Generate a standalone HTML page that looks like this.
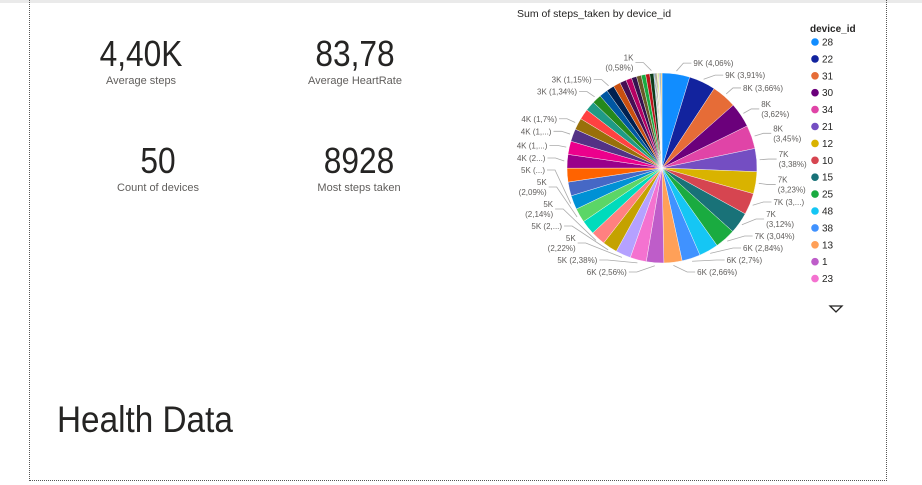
<!DOCTYPE html>
<html><head><meta charset="utf-8"><style>
body{margin:0;width:922px;height:485px;background:#fff;font-family:"Liberation Sans",sans-serif;overflow:hidden;position:relative}
.topbar{position:absolute;left:0;top:0;width:922px;height:3px;background:#eaeaea}
.frame{position:absolute;left:29px;top:-2px;width:856px;height:482px;border:1px dotted #555;border-top:none}
.kpi{position:absolute;width:200px;text-align:center;color:#252423}
.kpi .v{font-size:36px;line-height:40px;transform:scaleX(0.88);transform-origin:center}
.kpi .l{font-size:11px;color:#605e5c;margin-top:1px}
.title{position:absolute;left:57px;top:399px;font-size:37px;color:#252423;transform:scaleX(0.9);transform-origin:left}
</style></head><body>
<div class="topbar"></div>
<div class="frame"></div>
<div class="kpi" style="left:41px;top:34px"><div class="v">4,40K</div><div class="l">Average steps</div></div>
<div class="kpi" style="left:255px;top:34px"><div class="v">83,78</div><div class="l">Average HeartRate</div></div>
<div class="kpi" style="left:58px;top:141px"><div class="v">50</div><div class="l">Count of devices</div></div>
<div class="kpi" style="left:259px;top:141px"><div class="v">8928</div><div class="l">Most steps taken</div></div>
<div class="title">Health Data</div>
<svg id="chart" width="922" height="485" style="position:absolute;left:0;top:0">
<text x="517" y="17" font-size="10.5" fill="#252423">Sum of steps_taken by device_id</text>
<text x="810" y="32" font-size="10" font-weight="bold" fill="#252423">device_id</text>
<path d="M830,306 L842,306 L836,312 Z" fill="none" stroke="#252423" stroke-width="1.3"/>
</svg>
<script>
const devices=["28","22","31","30","34","21","12","10","15","25","48","38","13","1","23"];
const values=[4.06,3.91,3.66,3.62,3.45,3.38,3.23,3.15,3.12,3.04,2.84,2.70,2.66,2.56,2.38,2.22,2.18,2.14,2.12,2.09,2.05,2.03,2.02,2.00,1.95,1.85,1.70,1.55,1.45,1.34,1.25,1.15,1.05,0.95,0.85,0.75,0.70,0.65,0.60,0.58,0.12,0.12,0.12,0.12,0.12,0.12,0.12,0.12,0.12,0.12];
const labels=["9K (4,06%)","9K (3,91%)","8K (3,66%)","8K|(3,62%)","8K|(3,45%)","7K|(3,38%)","7K|(3,23%)","7K (3,...)","7K|(3,12%)","7K (3,04%)","6K (2,84%)","6K (2,7%)","6K (2,66%)","6K (2,56%)","5K (2,38%)","5K|(2,22%)","5K (2,...)","5K|(2,14%)","","5K|(2,09%)","5K (...)","","","4K (2...)","4K (1,...)","4K (1,...)","4K (1,7%)","","","3K (1,34%)","","3K (1,15%)","","","","","","","","1K|(0,58%)"];
const colors=["#118DFF","#12239E","#E66C37","#6B007B","#E044A7","#744EC2","#D9B300","#D64550","#197278","#1AAB40","#15C6F4","#4092FF","#FFA058","#BE5DC9","#F472D0","#B5A1FF","#C4A200","#FF8080","#00DBBC","#5BD667","#0091D5","#4668C5","#FF6300","#99008A","#EC008C","#533285","#99700A","#FF4141","#1F9A85","#25891C","#0057A2","#002050","#C94F0F","#450F54","#B60064","#34124F","#6A5A29","#1AAB40","#BA141A","#0C3D1A","#1F6EC7","#5C3B1A","#215A3C","#4F2E10","#E8D166","#99E000","#C4A0FF","#7C7C7C","#2A6F97","#F0A000"];
const svg=document.getElementById('chart');const NS="http://www.w3.org/2000/svg";
const cx=662,cy=168,r=95;
const total=values.reduce((a,b)=>a+b,0);
function angle(v){return v/total*Math.PI*2;}
function pt(a,rr){return [cx+rr*Math.sin(a),cy-rr*Math.cos(a)];}
let a0=0;const labs=[];
values.forEach((v,i)=>{
  const a1=a0+angle(v);
  const p0=pt(a0,r),p1=pt(a1,r);
  const p=document.createElementNS(NS,'path');
  p.setAttribute('d',`M${cx},${cy} L${p0[0]},${p0[1]} A${r},${r} 0 ${a1-a0>Math.PI?1:0} 1 ${p1[0]},${p1[1]} Z`);
  p.setAttribute('fill',colors[i%colors.length]);p.setAttribute('stroke','#fff');p.setAttribute('stroke-width','0.4');
  
  
  svg.appendChild(p);
  if(labels[i]){const am=(a0+a1)/2;const parts=labels[i].split('|');
    labs.push({am,parts,right:Math.sin(am)>=0,y:pt(am,r+11)[1],h:parts.length*10+2});}
  a0=a1;
});
[true,false].forEach(side=>{
  const L=labs.filter(o=>o.right===side).sort((a,b)=>a.y-b.y);
  for(let k=1;k<L.length;k++){const min=L[k-1].y+(L[k-1].h+L[k].h)/2;if(L[k].y<min)L[k].y=min;}
  for(let k=L.length-1;k>0;k--){if(L[k].y>272){L[k].y=272;}const max=L[k].y-(L[k-1].h+L[k].h)/2;if(L[k-1].y>max)L[k-1].y=max;}
});
labs.forEach(o=>{
  const q=pt(o.am,r+3);
  const dy=o.y-cy;const rr=r+12;
  const dx=Math.sqrt(Math.max(0,rr*rr-dy*dy));
  const ex=cx+(o.right?dx:-dx);
  const q3x=ex+(o.right?8:-8);
  const l=document.createElementNS(NS,'polyline');
  l.setAttribute('points',`${q[0]},${q[1]} ${ex},${o.y} ${q3x},${o.y}`);
  l.setAttribute('fill','none');l.setAttribute('stroke','#aaa');l.setAttribute('stroke-width','0.8');
  
  
  svg.appendChild(l);
  const t=document.createElementNS(NS,'text');
  t.setAttribute('font-size','8');t.setAttribute('fill','#605e5c');
  t.setAttribute('text-anchor',o.right?'start':'end');
  
  
  o.parts.forEach((s,k)=>{const ts=document.createElementNS(NS,'tspan');ts.setAttribute('x',q3x+(o.right?2:-2));ts.setAttribute('y',o.y+3+(k-(o.parts.length-1)/2)*10);ts.textContent=s;t.appendChild(ts);});
  svg.appendChild(t);
});
devices.forEach((d,i)=>{
  const y=42+i*16.9;
  const c=document.createElementNS(NS,'circle');
  c.setAttribute('cx',815);c.setAttribute('cy',y);c.setAttribute('r',3.8);c.setAttribute('fill',colors[i]);
  
  
  svg.appendChild(c);
  const t=document.createElementNS(NS,'text');
  t.setAttribute('x',822);t.setAttribute('y',y+3.5);t.setAttribute('font-size','10');t.setAttribute('fill','#252423');t.textContent=d;
  
  
  svg.appendChild(t);
});
</script>
</body></html>
